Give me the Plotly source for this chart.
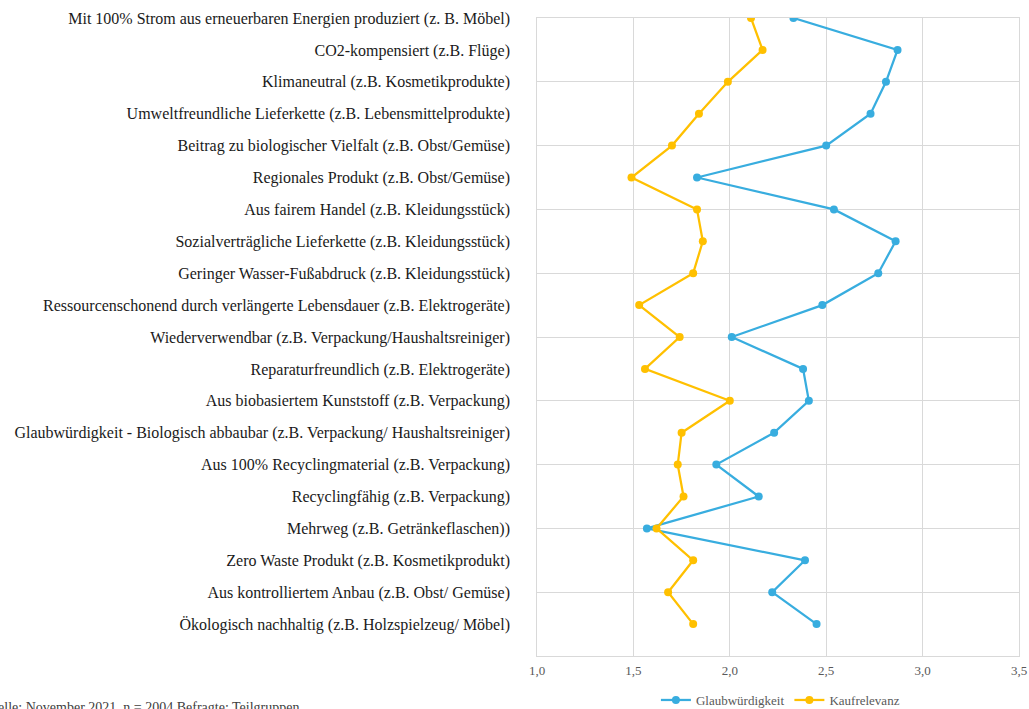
import plotly.graph_objects as go

# Aussagen (von oben nach unten)
kategorien = [
    "Mit 100% Strom aus erneuerbaren Energien produziert (z. B. Möbel)",
    "CO2-kompensiert (z.B. Flüge)",
    "Klimaneutral (z.B. Kosmetikprodukte)",
    "Umweltfreundliche Lieferkette (z.B. Lebensmittelprodukte)",
    "Beitrag zu biologischer Vielfalt (z.B. Obst/Gemüse)",
    "Regionales Produkt (z.B. Obst/Gemüse)",
    "Aus fairem Handel (z.B. Kleidungsstück)",
    "Sozialverträgliche Lieferkette (z.B. Kleidungsstück)",
    "Geringer Wasser-Fußabdruck (z.B. Kleidungsstück)",
    "Ressourcenschonend durch verlängerte Lebensdauer (z.B. Elektrogeräte)",
    "Wiederverwendbar (z.B. Verpackung/Haushaltsreiniger)",
    "Reparaturfreundlich (z.B. Elektrogeräte)",
    "Aus biobasiertem Kunststoff (z.B. Verpackung)",
    "Glaubwürdigkeit - Biologisch abbaubar (z.B. Verpackung/ Haushaltsreiniger)",
    "Aus 100% Recyclingmaterial (z.B. Verpackung)",
    "Recyclingfähig (z.B. Verpackung)",
    "Mehrweg (z.B. Getränkeflaschen))",
    "Zero Waste Produkt (z.B. Kosmetikprodukt)",
    "Aus kontrolliertem Anbau (z.B. Obst/ Gemüse)",
    "Ökologisch nachhaltig (z.B. Holzspielzeug/ Möbel)",
]

glaubwuerdigkeit = [2.33, 2.87, 2.81, 2.73, 2.50, 1.83, 2.54, 2.86, 2.77, 2.48,
                    2.01, 2.38, 2.41, 2.23, 1.93, 2.15, 1.57, 2.39, 2.22, 2.45]
kaufrelevanz = [2.11, 2.17, 1.99, 1.84, 1.70, 1.49, 1.83, 1.86, 1.81, 1.53,
                1.74, 1.56, 2.00, 1.75, 1.73, 1.76, 1.62, 1.81, 1.68, 1.81]

x_ticks = [1.0, 1.5, 2.0, 2.5, 3.0, 3.5]

n = len(kategorien)
# Positionen auf der Wertachse: oberste Aussage = n, unterste = 1
positionen = [n - i for i in range(n)]

BLAU = "#38ADDF"
GELB = "#FFC000"
GRID = "#D9D9D9"
SERIF = "Liberation Serif, Times New Roman, serif"

fig = go.Figure()
# Glaubwürdigkeit auf der Gitterachse (y), Kaufrelevanz auf der Beschriftungsachse (y2);
# beide Achsen teilen denselben Wertebereich.
fig.add_trace(go.Scatter(
    x=glaubwuerdigkeit, y=positionen, name="Glaubwürdigkeit",
    mode="lines+markers", line=dict(color=BLAU, width=2.25),
    marker=dict(color=BLAU, size=8), yaxis="y",
))
fig.add_trace(go.Scatter(
    x=kaufrelevanz, y=positionen, name="Kaufrelevanz",
    mode="lines+markers", line=dict(color=GELB, width=2.25),
    marker=dict(color=GELB, size=8), yaxis="y2",
))

fig.update_layout(
    width=1029, height=709,
    margin=dict(l=537, r=10, t=18, b=53, autoexpand=False),
    paper_bgcolor="white", plot_bgcolor="white",
    separators=",.",
    font=dict(family=SERIF, color="#595959"),
    xaxis=dict(
        range=[1.0, 3.5], tickvals=x_ticks, tickformat=".1f",
        showgrid=True, gridcolor=GRID, gridwidth=1,
        showline=True, linecolor=GRID, mirror=True,
        zeroline=False, ticks="", tickfont=dict(size=13, color="#595959"),
        ticklabelstandoff=2,
    ),
    # Gitterachse: Linie bei jeder zweiten Aussage
    yaxis=dict(
        range=[0, n], dtick=2, showgrid=True, gridcolor=GRID,
        gridwidth=1, showticklabels=False, zeroline=False,
        showline=True, linecolor=GRID, mirror=True, ticks="",
    ),
    # Beschriftungsachse mit den Aussagen
    yaxis2=dict(
        range=[0, n], overlaying="y", side="left",
        tickvals=positionen, ticktext=kategorien, showgrid=False,
        zeroline=False, ticks="", showline=False,
        tickfont=dict(size=16, color="#1A1A1A", family=SERIF),
        ticklabelstandoff=26,
    ),
    legend=dict(
        orientation="h", x=0.505, xanchor="center", y=-0.069, yanchor="middle",
        font=dict(size=13, color="#595959", family=SERIF),
        bgcolor="rgba(0,0,0,0)",
    ),
    showlegend=True,
)

fig.add_annotation(
    text="Quelle: November 2021, n = 2004 Befragte; Teilgruppen",
    xref="paper", yref="paper", x=0, xanchor="left", xshift=-558,
    y=-0.066, yanchor="top", showarrow=False,
    font=dict(size=14, color="#404040", family=SERIF),
)

fig.write_html("out.html")
